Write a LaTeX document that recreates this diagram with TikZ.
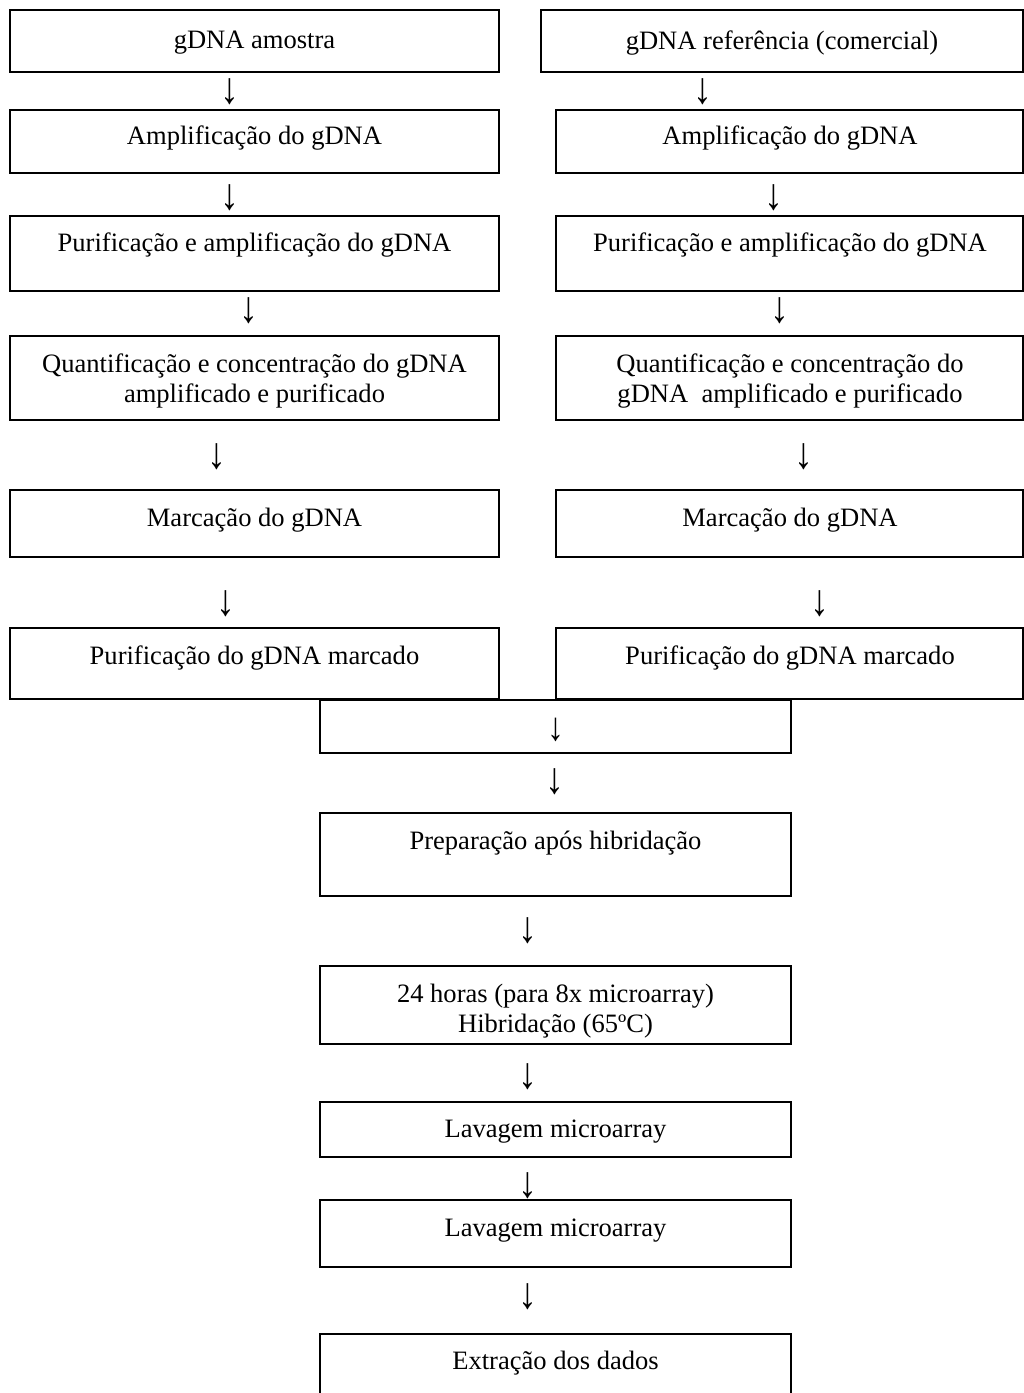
\documentclass[tikz,border=0pt]{standalone}
\usepackage{fontspec}
\usepackage{graphicx}
\setmainfont{Liberation Serif}
\usetikzlibrary{fit}

\newcommand{\dn}{\scalebox{0.85}[1]{↓}}

\begin{document}
\begin{tikzpicture}[x=0.452pt, y=-0.452pt,
  box/.style={draw, line width=0.9pt, inner sep=0pt},
  txt/.style={align=center, inner sep=0pt, yshift=-1.4pt, font=\fontsize{12}{13.6}\selectfont},
  arr/.style={inner sep=0pt, font=\fontsize{20}{20}\selectfont}]
\useasboundingbox (0,0) rectangle (1024,1393);
% sample column
\node[box, fit={(10,10) (499,72)}] (s1) {};
\foreach \t/\b/\i in {110/173/2, 216/291/3, 336/420/4, 490/557/5, 628/699/6}
  \node[box, fit={(10,\t) (499,\b)}] (s\i) {};
% reference column
\node[box, fit={(541,10) (1023,72)}] (r1) {};
\foreach \t/\b/\i in {110/173/2, 216/291/3, 336/420/4, 490/557/5, 628/699/6}
  \node[box, fit={(556,\t) (1023,\b)}] (r\i) {};
% common steps
\foreach \t/\b/\i in {700/753/7, 813/896/8, 966/1044/9, 1102/1157/10, 1200/1267/11, 1334/1420/12}
  \node[box, fit={(320,\t) (791,\b)}] (c\i) {};
% texts
\node[txt] (ts1) at (254.5,40) {gDNA amostra};
\node[txt] (ts2) at (254.5,135) {Amplificação do gDNA};
\node[txt] (ts3) at (254.5,242) {Purificação e amplificação do gDNA};
\node[txt] (ts4) at (254.5,378) {Quantificação e concentração do gDNA\\amplificado e purificado};
\node[txt] (ts5) at (254.5,517) {Marcação do gDNA};
\node[txt] (ts6) at (254.5,655) {Purificação do gDNA marcado};
\node[txt] (tr1) at (782,40) {gDNA referência (comercial)};
\node[txt] (tr2) at (790,135) {Amplificação do gDNA};
\node[txt] (tr3) at (790,242) {Purificação e amplificação do gDNA};
\node[txt] (tr4) at (790,378) {Quantificação e concentração do\\gDNA\ \ amplificado e purificado};
\node[txt] (tr5) at (790,517) {Marcação do gDNA};
\node[txt] (tr6) at (790,655) {Purificação do gDNA marcado};
\node[txt] (tc8) at (555.5,840) {Preparação após hibridação};
\node[txt] (tc9) at (555.5,1008) {24 horas (para 8x microarray)\\Hibridação (65ºC)};
\node[txt] (tc10) at (555.5,1128) {Lavagem microarray};
\node[txt] (tc11) at (555.5,1227) {Lavagem microarray};
\node[txt] (tc12) at (555.5,1360) {Extração dos dados};
% arrows
\foreach \x/\y/\i in {230/92/1, 230/198/2, 249/311/3, 217/457/4, 226/604/5}
  \node[arr] (as\i) at (\x,\y) {\dn};
\foreach \x/\y/\i in {703/92/1, 774/198/2, 780/311/3, 804/457/4, 820/604/5}
  \node[arr] (ar\i) at (\x,\y) {\dn};
\foreach \x/\y/\i in {555/782/8, 528/931/9, 528/1077/10, 528/1186/11, 528/1297/12}
  \node[arr] (ac\i) at (\x,\y) {\dn};
\node[arr, font=\fontsize{18}{18}\selectfont] (ac7) at (556,730) {\dn};
\end{tikzpicture}
\end{document}
